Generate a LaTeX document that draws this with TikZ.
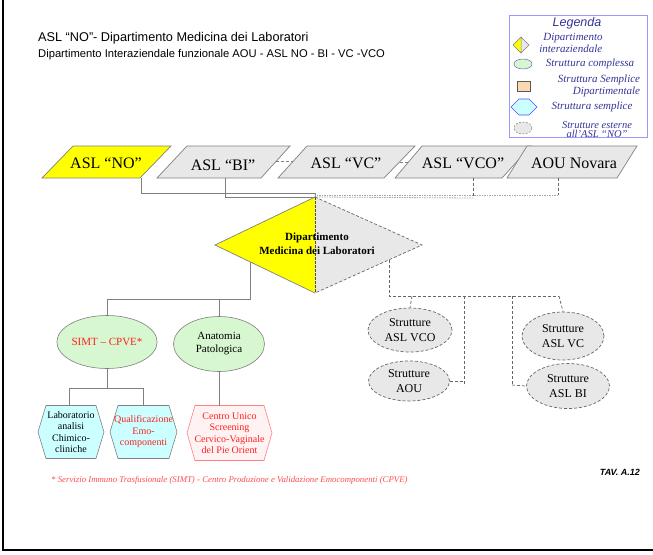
\documentclass[tikz,border=0pt]{standalone}
\usepackage{fontspec}
\setmainfont{Liberation Serif}
\newfontfamily\sansf{Liberation Sans}
\usetikzlibrary{shapes.geometric}
\definecolor{lgray}{HTML}{E8E8E8}
\definecolor{bord}{HTML}{808080}
\definecolor{yel}{HTML}{FFFF00}
\definecolor{lgreen}{HTML}{D6F7D0}
\definecolor{lcyan}{HTML}{CCFFFF}
\definecolor{lpink}{HTML}{FFF2F2}
\definecolor{pinkb}{HTML}{FF8080}
\definecolor{navy}{HTML}{333399}
\definecolor{legb}{HTML}{9999FF}
\definecolor{peach}{HTML}{FBD8B0}
\definecolor{redt}{HTML}{FF2020}
\newcommand\myhex[5]{\path[#5] (#1-#3,#2) -- (#1-#3+8,#2-#4) -- (#1+#3-8,#2-#4) -- (#1+#3,#2) -- (#1+#3-8,#2+#4) -- (#1-#3+8,#2+#4) -- cycle;}
\begin{document}
\begin{tikzpicture}[x=1pt,y=-1pt,
  pg/.style={draw=bord, line width=0.7pt},
  pgtext/.style={font=\fontsize{16}{18}\selectfont, inner sep=0},
  solidc/.style={draw=bord, line width=0.8pt},
  dashc/.style={draw=bord!80!black, line width=0.7pt, dash pattern=on 3pt off 2pt},
  dotc/.style={draw=bord!70, line width=0.8pt, dash pattern=on 1.5pt off 1pt},
  cplx/.style={ellipse, draw=bord, line width=0.6pt, fill=lgreen, inner sep=0, align=center, font=\fontsize{11}{13}\selectfont},
  ext/.style={ellipse, draw=bord!80!black, dash pattern=on 3pt off 2pt, line width=0.7pt, fill=lgray, inner sep=0, align=center, font=\fontsize{12}{15}\selectfont},
  hextext/.style={inner sep=0, align=center, font=\fontsize{10}{11.5}\selectfont},
  legt/.style={inner sep=0, text=navy, font=\fontsize{11}{11.5}\selectfont\itshape}
]
\useasboundingbox (0,0) rectangle (653,554);
% frame
\draw[line width=2.5pt] (3,0) -- (3,550) -- (653,550);
% titles
\node[anchor=west, inner sep=0, font=\sansf\fontsize{12.7}{14}\selectfont] (t1) at (38,38) {ASL “NO”- Dipartimento Medicina dei Laboratori};
\node[anchor=west, inner sep=0, font=\sansf\fontsize{11.2}{12}\selectfont] (t2) at (38,55) {Dipartimento Interaziendale funzionale AOU - ASL NO - BI - VC -VCO};

% legend
\draw[legb, line width=0.8pt] (509,15) rectangle (647,137);
\node[inner sep=0, text=navy, font=\sansf\fontsize{12.5}{14}\selectfont\itshape] (leg) at (577,23) {Legenda};
\fill[yel] (513,45) -- (521,37) -- (521,53) -- cycle;
\fill[lgray] (529,45) -- (521,37) -- (521,53) -- cycle;
\draw[bord, line width=0.5pt] (513,45) -- (521,37) -- (529,45) -- (521,53) -- cycle (521,37) -- (521,53);
\node[legt, align=left] (l1) at (571,43) {\hspace*{4pt}Dipartimento\\interaziendale};
\draw[legb!70!black, fill=lgreen, line width=0.5pt] (523,64) ellipse (9 and 5);
\node[legt] (l2) at (590,64) {Struttura complessa};
\draw[bord!70!black, fill=peach, line width=0.5pt] (517,81) rectangle (530,91);
\node[legt, align=right] (l3) at (599,86) {Struttura Semplice\\Dipartimentale};
\myhex{524}{107}{13}{8}{draw=legb!50!blue, fill=lcyan, line width=0.6pt}
\node[legt] (l4) at (592,107) {Struttura semplice};
\draw[bord, fill=lgray, dash pattern=on 2pt off 1.5pt, line width=0.5pt] (523,128) ellipse (9 and 6);
\node[legt, align=center, font=\fontsize{10.5}{9}\selectfont\itshape] (l5) at (597,130) {Strutture esterne\\all’ASL “NO”};

% top parallelograms
\path[pg, fill=yel] (42,178) -- (140,178) -- (171,146) -- (73,146) -- cycle;
\node[pgtext] (no) at (106,163) {ASL “NO”};
\path[pg, fill=lgray] (157,178) -- (261,178) -- (290,146) -- (187,146) -- cycle;
\node[pgtext] (bi) at (223,165) {ASL “BI”};
\path[pg, fill=lgray] (278,178) -- (384,178) -- (415,146) -- (307,146) -- cycle;
\node[pgtext] (vc) at (346,163) {ASL “VC”};
\path[pg, fill=lgray] (395,178) -- (502,178) -- (531,146) -- (422,146) -- cycle;
\node[pgtext] (vco) at (463,163) {ASL “VCO”};
\path[pg, fill=lgray] (507,178) -- (617,178) -- (637,146) -- (527,146) -- cycle;
\node[pgtext] (aou) at (574,163) {AOU Novara};
\coordinate (nob) at (141,178);
\coordinate (bib) at (225,178);
\coordinate (vcob) at (473,178);
\coordinate (aoub) at (558,178);
\coordinate (bir) at (276,161);
\coordinate (vcl) at (293,161);
\coordinate (vcr) at (400,162);
\coordinate (vcol) at (409,162);
\draw[dashc, draw=bord] (bir) -- (vcl);
\draw[dashc, draw=bord] (vcr) -- (vcol);

% diamond
\coordinate (dT) at (315,197);
\coordinate (dB) at (315,293);
\coordinate (dL) at (215,245);
\coordinate (dR) at (422,245);
\fill[yel] (dT) -- (dL) -- (dB) -- cycle;
\fill[lgray] (dT) -- (dR) -- (dB) -- cycle;
\draw[bord, line width=0.7pt] (dB) -- (dL) -- (dT);
\draw[dashc] (dT) -- (dR) -- (dB);
\draw[black!70, line width=0.7pt, dash pattern=on 3pt off 1pt] (dT) -- (dB);
\node[inner sep=0, align=center, font=\bfseries\fontsize{11}{14}\selectfont] (dip) at (317,244) {Dipartimento\\Medicina dei Laboratori};

% connectors from top
\draw[solidc] (nob) |- (315,193) -- (dT);
\draw[solidc] (bib) |- (dT);
\draw[dashc] (vcob) -- (473,198);
\draw[dotc] (473,198) -- (dT);
\draw[dashc] (aoub) -- (558,195);
\draw[dotc] (558,195) -- (315,195);

% left tree
\node[cplx, minimum width=92, minimum height=53, text=redt] (simt) at (107,342) {SIMT – CPVE*};
\node[cplx, minimum width=91, minimum height=55] (anat) at (219,344) {Anatomia\\Patologica};
\coordinate (dl) at (250,262);
\draw[solidc] (dl) -- (250,299) -- (107,299) -- (simt.north);
\draw[solidc] (219,299) -- (anat.north);

\myhex{71}{432}{33}{26.5}{draw=bord, fill=lcyan, line width=0.6pt}
\node[hextext] (lab) at (71,432) {Laboratorio\\analisi\\Chimico-\\cliniche};
\myhex{143.5}{432}{33.5}{26.5}{draw=bord, fill=lcyan, line width=0.6pt}
\node[hextext, text=redt] (qual) at (143.5,432) {Qualificazione\\Emo-\\componenti};
\myhex{229.5}{433}{42.5}{27.5}{draw=pinkb, fill=lpink, line width=0.6pt}
\node[hextext, text=redt] (cus) at (229.5,433) {Centro Unico\\Screening\\Cervico-Vaginale\\del Pie Orient};
\coordinate (labt) at (69,405.5);
\coordinate (qualt) at (143,405.5);
\coordinate (cust) at (219,405.5);
\draw[solidc] (simt.south) -- (107,388);
\draw[solidc] (labt) -- (69,388) -- (143,388) -- (qualt);
\draw[solidc] (anat.south) -- (cust);

% right tree
\node[ext, minimum width=84, minimum height=44] (svco) at (410,330) {Strutture\\ASL VCO};
\node[ext, minimum width=81, minimum height=40] (saou) at (409,381) {Strutture\\AOU};
\node[ext, minimum width=82, minimum height=48] (svc) at (563,336) {Strutture\\ASL VC};
\node[ext, minimum width=83, minimum height=45] (sbi) at (568,386) {Strutture\\ASL BI};
\coordinate (dr) at (389,260);
\draw[dashc] (dr) -- (389,296) -- (559,296);
\draw[dashc] (412,296) -- (svco.north);
\draw[dashc] (559,296) -- (svc.north);
\draw[dashc] (464,296) -- (464,386);
\draw[dashc] (saou.east) -- (464,381);
\draw[dashc] (512,296) -- (512,386);
\draw[dashc] (512,385) -- (sbi.west);

% footnote
\node[anchor=west, inner sep=0, text=redt!80, font=\itshape\fontsize{8.8}{9}\selectfont] (fn) at (51,480) {* Servizio Immuno Trasfusionale (SIMT) - Centro Produzione e Validazione Emocomponenti (CPVE)};
\node[anchor=east, inner sep=0, font=\sansf\bfseries\itshape\fontsize{9}{10}\selectfont] (tav) at (640,472) {TAV. A.12};
\end{tikzpicture}
\end{document}
